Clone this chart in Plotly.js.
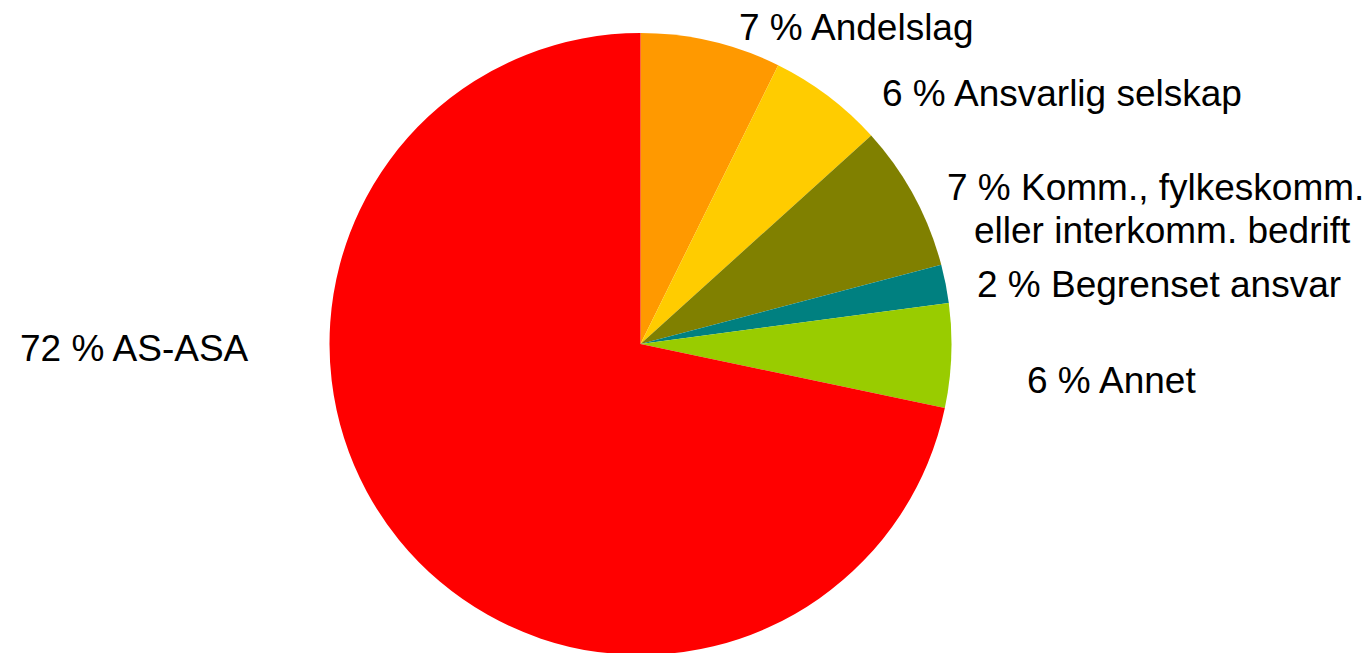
<!DOCTYPE html>
<html>
<head>
<meta charset="utf-8">
<script src="https://cdn.plot.ly/plotly-3.0.1.min.js"></script>
<style>html,body{margin:0;padding:0;background:#fff;overflow:hidden;}#chart{width:1372px;height:658px;}</style>
</head>
<body>
<div id="chart"></div>
<script>
// Data (clockwise from 12 o'clock)
var categories = ["Andelslag", "Ansvarlig selskap", "Komm., fylkeskomm. eller interkomm. bedrift", "Begrenset ansvar", "Annet", "AS-ASA"];
var values = [7.3, 6.0, 7.6, 2.0, 5.4, 71.7];
var percentLabels = ["7 %", "6 %", "7 %", "2 %", "6 %", "72 %"];
var labelLines = [["Andelslag"], ["Ansvarlig selskap"], ["Komm., fylkeskomm.", "eller interkomm. bedrift"], ["Begrenset ansvar"], ["Annet"], ["AS-ASA"]];
var colors = ["#FF9900", "#FFCC00", "#808000", "#008080", "#99CC00", "#FF0000"];

// Label placement (pixels), layout only
var W = 1372, H = 658;
var labelPos = [
  [[737, 28]],
  [[880, 93]],
  [[945, 187], [972, 230]],
  [[975, 285]],
  [[1025, 381]],
  [[18, 348]]
];

var annotations = [];
for (var i = 0; i < categories.length; i++) {
  for (var j = 0; j < labelLines[i].length; j++) {
    var txt = (j === 0 ? percentLabels[i] + " " : "") + labelLines[i][j];
    annotations.push({
      xref: "paper", yref: "paper",
      x: labelPos[i][j][0] / W, y: 1 - labelPos[i][j][1] / H,
      xanchor: "left", yanchor: "middle",
      text: txt, showarrow: false,
      font: {family: "Liberation Sans, Arial, sans-serif", size: 37, color: "#000"}
    });
  }
}

// pie: centre (640.5, 344), radius 311 px
var trace = {
  type: "pie",
  labels: categories,
  values: values,
  marker: {colors: colors, line: {width: 0}},
  sort: false,
  direction: "clockwise",
  rotation: 0,
  textinfo: "none",
  hoverinfo: "label+percent",
  domain: {x: [329.5 / W, 951.5 / W], y: [(H - 655) / H, (H - 33) / H]}
};

var layout = {
  width: W, height: H,
  margin: {l: 0, r: 0, t: 0, b: 0},
  paper_bgcolor: "#fff",
  showlegend: false,
  annotations: annotations
};

Plotly.newPlot("chart", [trace], layout, {displayModeBar: false, staticPlot: true});
</script>
</body>
</html>
